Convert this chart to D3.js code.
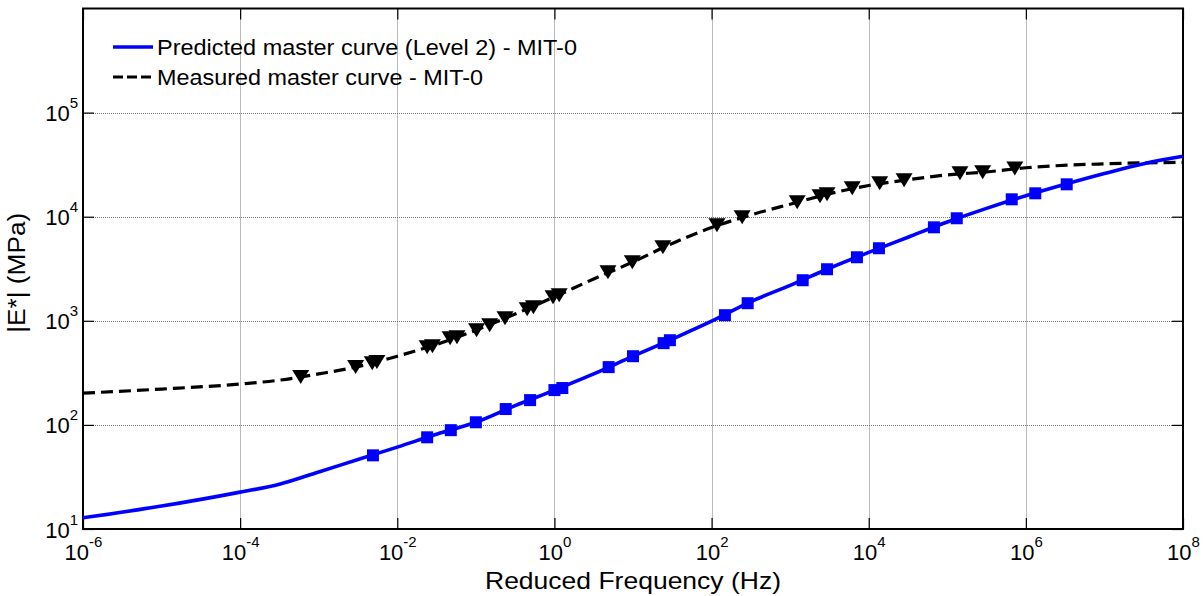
<!DOCTYPE html>
<html>
<head>
<meta charset="utf-8">
<script src="https://cdn.jsdelivr.net/npm/d3@7"></script>
<style>
  html, body { margin: 0; padding: 0; background: #fff; }
  svg { display: block; font-family: "Liberation Sans", Arial, sans-serif; }
</style>
</head>
<body>
<svg id="chart" width="1203" height="596"></svg>
<script>
// Reduced frequency (Hz) sampled along each master curve
const predCurveFreq = [1e-6, 1e-5, 1e-4, 3.16e-4, 1e-3, 3.16e-3, 1e-2, 3.16e-2, 1e-1, 3.16e-1, 1, 3.16, 1e1, 3.16e1, 1e2, 3.16e2, 1e3, 3.16e3, 1e4, 3.16e4, 1e5, 3.16e5, 1e6, 3.16e6, 1e7, 3.16e7, 1e8];
const predCurveModulus = [12.8, 16.6, 22.6, 26.9, 35.3, 46.5, 61.2, 81.3, 106, 153, 216, 309, 457, 667, 991, 1531, 2188, 3199, 4539, 6353, 8892, 12020, 15920, 20500, 26000, 32300, 38020];

const measCurveFreq = [1e-6, 1e-5, 1e-4, 3.16e-4, 1e-3, 3.16e-3, 1e-2, 3.16e-2, 1e-1, 3.16e-1, 1, 3.16, 1e1, 3.16e1, 1e2, 3.16e2, 1e3, 3.16e3, 1e4, 3.16e4, 1e5, 3.16e5, 1e6, 1e7, 1e8];
const measCurveModulus = [202, 221, 247, 269, 309, 363, 457, 593, 813, 1161, 1698, 2523, 3673, 5534, 7870, 10400, 13180, 16600, 19950, 22650, 25230, 26920, 29510, 32210, 33270];

// Predicted (Level 2) data points, square markers
const predPointFreq = [4.9e-3, 2.4e-2, 4.8e-2, 1.0e-1, 2.4e-1, 4.9e-1, 1.0, 1.26, 4.9, 10, 24.5, 29.5, 148, 288, 1445, 2950, 7080, 13500, 67600, 132000, 661000, 1318000, 3311000];
const predPointModulus = [51, 76, 89, 106, 142, 173, 216, 226, 359, 457, 610, 651, 1132, 1476, 2453, 3128, 4077, 4977, 7907, 9660, 14690, 16780, 20470];

// Measured data points, downward triangle markers
const measPointFreq = [5.9e-4, 2.95e-3, 4.8e-3, 5.5e-3, 2.4e-2, 2.8e-2, 4.7e-2, 5.75e-2, 1.02e-1, 1.5e-1, 2.35e-1, 4.5e-1, 5.4e-1, 9.6e-1, 1.15, 4.8, 9.8, 24, 117, 245, 1230, 2400, 2950, 6170, 13800, 28200, 145000, 282000, 724000];
const measPointModulus = [288, 359, 392, 401, 558, 571, 681, 696, 812, 907, 1059, 1292, 1351, 1683, 1762, 2926, 3651, 5085, 8268, 9860, 13750, 15700, 16400, 18740, 20940, 22340, 26100, 26690, 29120];

// Axis ticks and labels
const xTicks = [1e-6, 1e-4, 1e-2, 1, 1e2, 1e4, 1e6, 1e8];
const yTicks = [1e1, 1e2, 1e3, 1e4, 1e5];
const xLabel = "Reduced Frequency (Hz)";
const yLabel = "|E*| (MPa)";
const legendLabels = ["Predicted master curve (Level 2) - MIT-0", "Measured master curve - MIT-0"];

const svg = d3.select("#chart");
const box = { left: 83, right: 1183, top: 8.5, bottom: 529 };

const x = d3.scaleLog().domain([1e-6, 1e8]).range([box.left, box.right]);
const y = d3.scaleLog().domain([1e1, 1e6]).range([box.bottom, box.top]);

// Dotted grid
const grid = svg.append("g").attr("stroke", "#777").attr("stroke-width", 1).attr("stroke-dasharray", "1,1");
grid.selectAll("line.gx").data(xTicks.slice(1, -1)).join("line")
  .attr("x1", d => Math.round(x(d)) + 0.5).attr("x2", d => Math.round(x(d)) + 0.5)
  .attr("y1", box.top).attr("y2", box.bottom);
grid.selectAll("line.gy").data(yTicks.slice(1)).join("line")
  .attr("y1", d => Math.round(y(d)) + 0.5).attr("y2", d => Math.round(y(d)) + 0.5)
  .attr("x1", box.left).attr("x2", box.right);

// Power-of-ten tick labels with superscript exponents
function supLabels(sel, anchor) {
  sel.selectAll(".tick text").each(function(d) {
    const t = d3.select(this);
    const e = Math.round(Math.log10(d));
    t.text(null).attr("text-anchor", anchor);
    t.append("tspan").text("10");
    t.append("tspan").attr("dy", -13).attr("font-size", 15).text(e);
  });
}

const tickLen = 11;
const xAxis = svg.append("g").attr("transform", `translate(0,${box.bottom})`)
  .call(d3.axisBottom(x).tickValues(xTicks).tickSizeInner(-tickLen).tickSizeOuter(0).tickPadding(0).tickFormat(d => d));
xAxis.selectAll(".tick text").attr("y", 31).attr("dy", 0).attr("font-size", 22).attr("fill", "#000");
supLabels(xAxis, "middle");

const yAxis = svg.append("g").attr("transform", `translate(${box.left},0)`)
  .call(d3.axisLeft(y).tickValues(yTicks).tickSizeInner(-tickLen).tickSizeOuter(0).tickPadding(0).tickFormat(d => d));
yAxis.selectAll(".tick text").attr("x", -5).attr("dy", 8).attr("font-size", 22).attr("fill", "#000");
supLabels(yAxis, "end");

svg.append("g").attr("transform", `translate(0,${box.top})`)
  .call(d3.axisTop(x).tickValues(xTicks).tickSizeInner(-tickLen).tickSizeOuter(0).tickFormat(""));
svg.append("g").attr("transform", `translate(${box.right},0)`)
  .call(d3.axisRight(y).tickValues(yTicks).tickSizeInner(-tickLen).tickSizeOuter(0).tickFormat(""));

svg.selectAll(".domain").remove();
svg.selectAll(".tick line").attr("stroke", "#000").attr("stroke-width", 1.2);

// Frame
svg.append("rect").attr("x", box.left).attr("y", box.top)
  .attr("width", box.right - box.left).attr("height", box.bottom - box.top)
  .attr("fill", "none").attr("stroke", "#000").attr("stroke-width", 2);

// Curves
const line = d3.line().x(d => x(d[0])).y(d => y(d[1])).curve(d3.curveMonotoneX);
const plot = svg.append("g");
plot.append("path").datum(d3.zip(measCurveFreq, measCurveModulus))
  .attr("d", line).attr("fill", "none").attr("stroke", "#000").attr("stroke-width", 3.2).attr("stroke-dasharray", "12,6");
plot.append("path").datum(d3.zip(predCurveFreq, predCurveModulus))
  .attr("d", line).attr("fill", "none").attr("stroke", "#0000ff").attr("stroke-width", 3.6);

// Markers
const sq = 12;
plot.selectAll("rect.pt").data(d3.zip(predPointFreq, predPointModulus)).join("rect")
  .attr("x", d => x(d[0]) - sq / 2).attr("y", d => y(d[1]) - sq / 2)
  .attr("width", sq).attr("height", sq).attr("fill", "#0000ff");
const tw = 17, th = 14;
plot.selectAll("path.tri").data(d3.zip(measPointFreq, measPointModulus)).join("path")
  .attr("d", d => {
    const cx = x(d[0]), cy = y(d[1]);
    return `M${cx - tw / 2},${cy - th / 2}L${cx + tw / 2},${cy - th / 2}L${cx},${cy + th / 2}Z`;
  })
  .attr("fill", "#000");

// Axis titles
svg.append("text").attr("x", (box.left + box.right) / 2).attr("y", 589).attr("text-anchor", "middle")
  .attr("font-size", 24).attr("textLength", 296).attr("lengthAdjust", "spacingAndGlyphs").text(xLabel);
svg.append("text").attr("transform", `translate(25,${(box.top + box.bottom) / 2 + 4}) rotate(-90)`)
  .attr("text-anchor", "middle").attr("font-size", 23).attr("textLength", 120).attr("lengthAdjust", "spacingAndGlyphs").text(yLabel);

// Legend
const legend = svg.append("g");
const legendStyles = [
  { stroke: "#0000ff", dash: null, width: 3.6, len: 420 },
  { stroke: "#000", dash: "10,4", width: 3.2, len: 326 }
];
legendLabels.forEach((lab, i) => {
  const ly = 47 + i * 30;
  legend.append("line").attr("x1", 113).attr("x2", 153).attr("y1", ly).attr("y2", ly)
    .attr("stroke", legendStyles[i].stroke).attr("stroke-width", legendStyles[i].width)
    .attr("stroke-dasharray", legendStyles[i].dash);
  legend.append("text").attr("x", 157).attr("y", ly + 8).attr("font-size", 22.5)
    .attr("textLength", legendStyles[i].len).attr("lengthAdjust", "spacingAndGlyphs").text(lab);
});
</script>
</body>
</html>
